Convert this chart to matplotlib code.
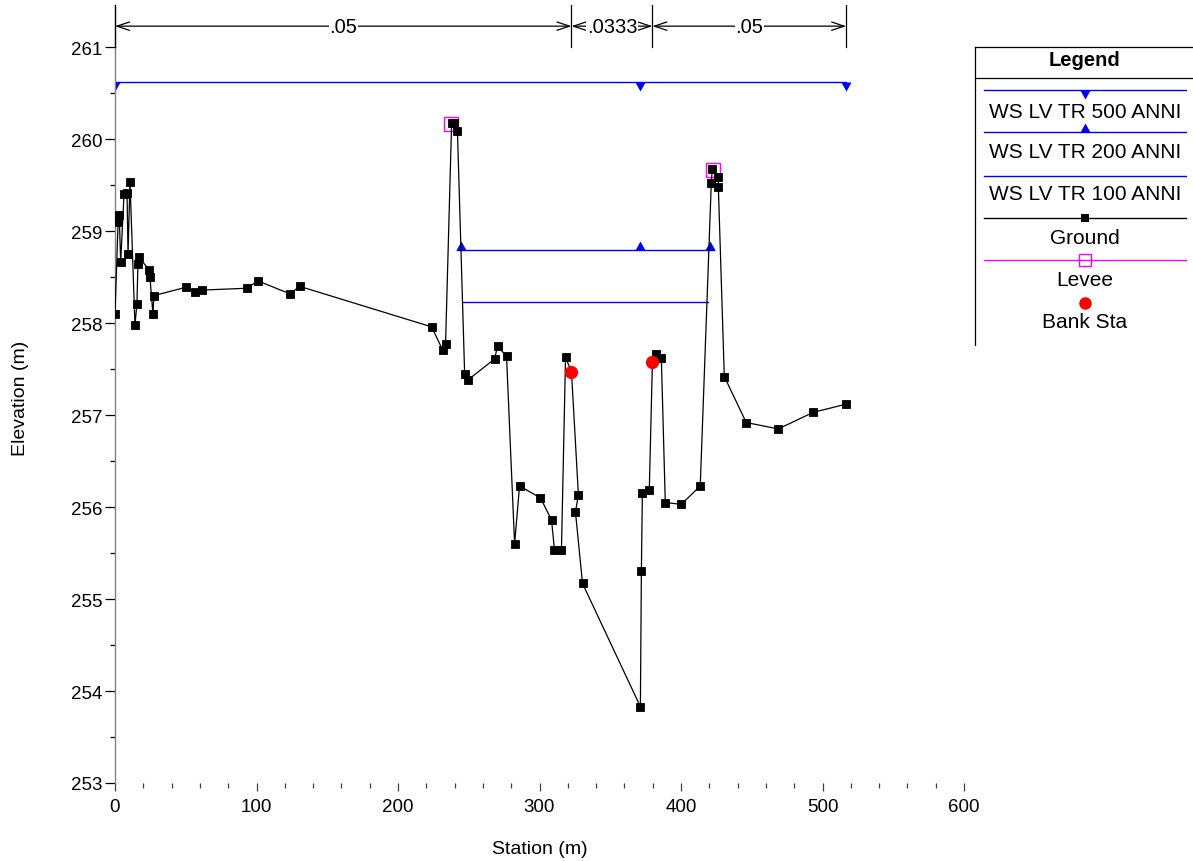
import matplotlib.pyplot as plt
from matplotlib.lines import Line2D
from matplotlib.ticker import MultipleLocator

plt.rcParams['font.family'] = ['Liberation Sans', 'DejaVu Sans']

# --- Ground profile (station m, elevation m) ---
ground_sta = [0.0, 2.2, 3.0, 4.0, 6.4, 8.5, 9.2, 10.6, 14.1, 15.5, 16.2, 16.9,
              24.0, 24.7, 26.8, 27.5, 50.0, 56.5, 61.4, 93.2, 101.0, 123.5, 130.6,
              223.8, 231.5, 233.6, 237.9, 239.3, 242.0, 247.1, 249.2, 268.2, 270.4,
              276.7, 282.4, 285.9, 300.7, 308.5, 310.6, 315.5, 318.4, 322.6, 327.5,
              325.4, 330.4, 371.3, 372.0, 372.7, 377.6, 379.8, 382.6, 386.1, 388.9,
              400.2, 413.6, 421.4, 422.1, 426.4, 426.4, 430.6, 446.1, 468.7, 493.4,
              516.7]
ground_elev = [258.10, 259.10, 259.18, 258.66, 259.41, 259.42, 258.75, 259.54,
               257.98, 258.21, 258.64, 258.72, 258.58, 258.50, 258.10, 258.30,
               258.39, 258.34, 258.36, 258.38, 258.46, 258.32, 258.40, 257.96,
               257.71, 257.77, 260.18, 260.18, 260.09, 257.45, 257.38, 257.61,
               257.75, 257.64, 255.60, 256.23, 256.10, 255.86, 255.53, 255.53,
               257.63, 257.47, 256.13, 255.95, 255.17, 253.83, 255.30, 256.15,
               256.19, 257.58, 257.67, 257.62, 256.05, 256.03, 256.23, 259.52,
               259.68, 259.59, 259.48, 257.42, 256.92, 256.85, 257.03, 257.12]

levee_sta = [237.8, 422.3]
levee_elev = [260.17, 259.67]

bank_sta = [322.6, 379.8]
bank_elev = [257.47, 257.58]

# water surfaces: extent, elevation, marker stations
ws500_extent = [0.0, 516.7]
ws500_elev = 260.62
ws500_marks = [0.0, 371.3, 516.7]

ws200_extent = [242.0, 423.0]
ws200_elev = 258.80
ws200_marks = [244.5, 371.3, 420.5]

ws100_extent = [245.6, 419.0]
ws100_elev = 258.23

# Manning's n regions
n_breaks = [0.0, 322.6, 379.8, 516.7]
n_values = ['.05', '.0333', '.05']

legend_labels = ['WS LV TR 500 ANNI', 'WS LV TR 200 ANNI', 'WS LV TR 100 ANNI',
                 'Ground', 'Levee', 'Bank Sta']

BLUE = '#0000FF'
MAGENTA = '#FF00FF'
RED = '#FF0000'

W, H = 1193, 862
fig = plt.figure(figsize=(W / 100, H / 100), dpi=100)
ax = fig.add_axes([115 / W, (H - 784) / H, 849 / W, (784 - 6) / H])

# triangle markers sitting on / hanging from the line
tri_up = [(-1, 0), (1, 0), (0, 1.8), (-1, 0)]
tri_down = [(-1, 0), (1, 0), (0, -1.8), (-1, 0)]
TRI_MS = 13

ax.plot(ws500_extent, [ws500_elev] * 2, color=BLUE, lw=1, zorder=2)
ax.plot(ws500_marks, [ws500_elev] * len(ws500_marks), ls='none', marker=tri_down,
        ms=TRI_MS, color=BLUE, mew=0, zorder=2)
ax.plot(ws200_extent, [ws200_elev] * 2, color=BLUE, lw=1, zorder=2)
ax.plot(ws200_marks, [ws200_elev] * len(ws200_marks), ls='none', marker=tri_up,
        ms=TRI_MS, color=BLUE, mew=0, zorder=2)
ax.plot(ws100_extent, [ws100_elev] * 2, color=BLUE, lw=1, zorder=2)

ax.plot(levee_sta, levee_elev, ls='none', marker='s', ms=9.5, mfc='none',
        mec=MAGENTA, mew=1, zorder=3)
ax.plot(ground_sta, ground_elev, color='black', lw=0.9, marker='s', ms=5.4,
        mfc='black', mec='black', mew=0.6, zorder=4)
ax.plot(bank_sta, bank_elev, ls='none', marker='o', ms=9.5, color=RED, mew=0, zorder=5)

# n-value bars across the top
for s in n_breaks:
    ax.plot([s, s], [261.0, 261.46], color='black', lw=0.9, clip_on=False, zorder=6)
for i, label in enumerate(n_values):
    x0, x1 = n_breaks[i], n_breaks[i + 1]
    ax.annotate('', xy=(x0, 261.23), xytext=(x1, 261.23),
                arrowprops=dict(arrowstyle='<->,head_length=0.9,head_width=0.3',
                                color='black', lw=0.9, shrinkA=0, shrinkB=0,
                                mutation_scale=10),
                annotation_clip=False, zorder=6)
    ax.text((x0 + x1) / 2, 261.23, label, ha='center', va='center', fontsize=14.5,
            bbox=dict(facecolor='white', edgecolor='none', pad=0.5), zorder=7,
            clip_on=False)

ax.set_xlim(0, 600)
ax.set_ylim(253, 261.46)
ax.xaxis.set_major_locator(MultipleLocator(100))
ax.xaxis.set_minor_locator(MultipleLocator(20))
ax.yaxis.set_major_locator(MultipleLocator(1))
ax.yaxis.set_minor_locator(MultipleLocator(0.5))

for side in ['top', 'right', 'bottom']:
    ax.spines[side].set_visible(False)
ax.spines['left'].set_color('#808080')
ax.spines['left'].set_linewidth(1)

ax.tick_params(axis='x', which='major', direction='out', length=5.5, width=0.9,
               pad=5, labelsize=13.5, color='#404040')
ax.tick_params(axis='x', which='minor', direction='out', length=3.5, width=0.9,
               color='#404040')
ax.tick_params(axis='y', which='major', direction='out', length=7, width=0.9,
               pad=2, labelsize=13.5)
ax.tick_params(axis='y', which='minor', direction='out', length=3.5, width=0.9)

ax.set_xlabel('Station (m)', fontsize=14)
ax.set_ylabel('Elevation (m)', fontsize=14)
ax.xaxis.set_label_coords(0.5, (784 - 850) / 778)
ax.xaxis.label.set_va('center')
ax.yaxis.set_label_coords((21 - 115) / 849, (784 - 398) / 778)
ax.yaxis.label.set_va('center')


def fx(px):
    return px / W


def fy(py):
    return 1 - py / H


# --- Legend panel drawn in figure coordinates ---
fig.add_artist(Line2D([fx(975), fx(1192)], [fy(48), fy(48)], color='black', lw=0.9))
fig.add_artist(Line2D([fx(975), fx(1192)], [fy(79), fy(79)], color='black', lw=0.9))
fig.add_artist(Line2D([fx(975), fx(975)], [fy(48), fy(346)], color='black', lw=0.9))
fig.text(fx(1085), fy(61), 'Legend', ha='center', va='center', fontsize=14.5,
         fontweight='bold')

entries = [
    (91, BLUE, tri_down, 'full', 112),
    (133, BLUE, tri_up, 'full', 153),
    (177, BLUE, None, None, 195),
    (219, 'black', 's', 'full', 239),
    (261, MAGENTA, 's', 'open', 281),
    (304, RED, 'o', 'dot', 323),
]
for (ly, col, mk, kind, ty), label in zip(entries, legend_labels):
    if kind != 'dot':
        fig.add_artist(Line2D([fx(984), fx(1186)], [fy(ly), fy(ly)], color=col, lw=1))
    if mk is not None:
        if kind == 'open':
            fig.add_artist(Line2D([fx(1085)], [fy(ly)], marker=mk, ms=9, mfc='none',
                                  mec=col, mew=1))
        elif kind == 'dot':
            fig.add_artist(Line2D([fx(1085)], [fy(ly)], marker=mk, ms=9, color=col,
                                  mew=0))
        elif mk == 's':
            fig.add_artist(Line2D([fx(1085)], [fy(ly)], marker=mk, ms=5.5, color=col,
                                  mew=0))
        else:
            fig.add_artist(Line2D([fx(1085)], [fy(ly)], marker=mk, ms=TRI_MS,
                                  color=col, mew=0))
    fig.text(fx(1085), fy(ty), label, ha='center', va='center', fontsize=15)

fig.savefig('out.png', dpi=100)
